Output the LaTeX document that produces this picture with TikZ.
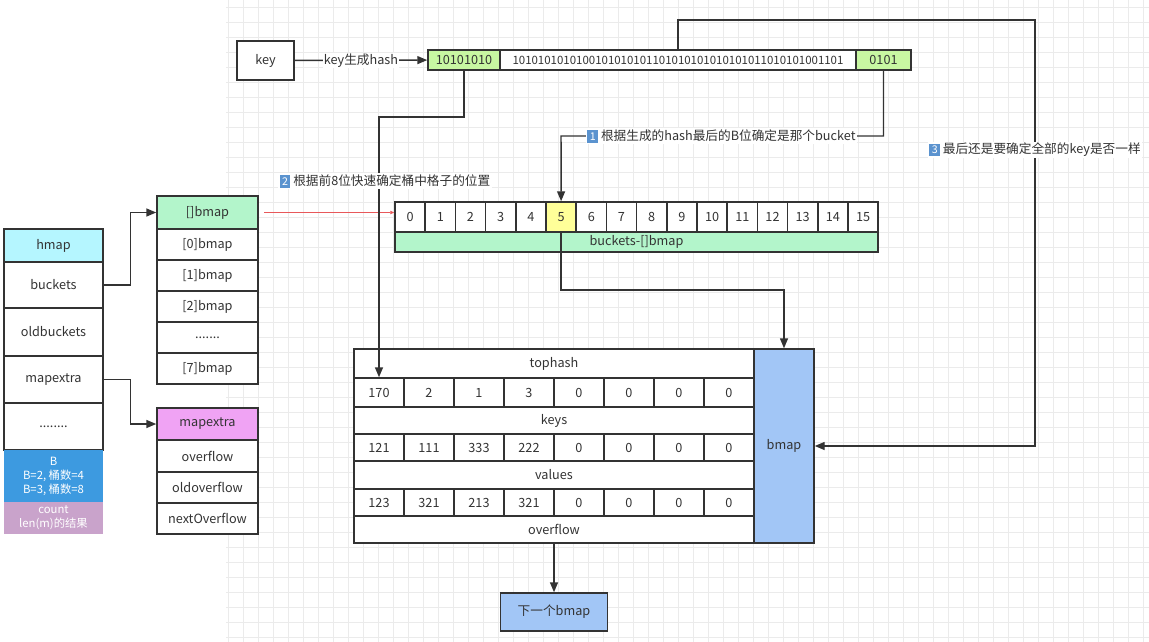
\documentclass[tikz,border=0pt]{standalone}
\usepackage{fontspec}
\setmainfont{Noto Sans CJK SC}
\usetikzlibrary{arrows.meta}
\definecolor{linec}{HTML}{333333}
\definecolor{txt}{HTML}{333333}
\definecolor{gridc}{HTML}{EBEBEB}
\definecolor{hcyan}{HTML}{B5F6FF}
\definecolor{mint}{HTML}{B3F5CB}
\definecolor{lime}{HTML}{C8F7A2}
\definecolor{violet}{HTML}{F0A3F4}
\definecolor{bblue}{HTML}{3D9AE0}
\definecolor{cpurple}{HTML}{C9A3CB}
\definecolor{yel}{HTML}{FFFF99}
\definecolor{bmapblue}{HTML}{A2C6F6}
\definecolor{capblue}{HTML}{5B93CF}
\definecolor{redl}{HTML}{E8585A}
\newcommand{\keycap}[1]{{\setlength{\fboxsep}{1.8pt}\colorbox{capblue}{\textcolor{white}{\fontsize{8}{8}\selectfont #1}}}}
\tikzset{>={Triangle[length=7.5pt,width=6pt]},
%size in pixels of the reference
sz/.style 2 args={minimum width=#1*0.75pt, minimum height=#2*0.75pt},
box/.style={draw=linec, line width=1.1pt, fill=white, inner sep=0pt, text=txt},
lbl/.style={fill=white, inner sep=1pt, text=txt},
conn/.style={draw=linec, line width=1.1pt}}

\begin{document}
\begin{tikzpicture}[x=0.75pt,y=-0.75pt,font=\fontsize{9.5}{11}\selectfont]
\useasboundingbox (0,0) rectangle (1149,642);
% grid paper
\begin{scope}
\clip (226,0) rectangle (1149,642);
\foreach \gx in {228,243,...,1149}
     \draw[gridc,line width=0.5pt] (\gx,0) -- (\gx,642);
\foreach \gy in {7,22,...,642}
     \draw[gridc,line width=0.5pt] (226,\gy) -- (1149,\gy);
\end{scope}

% hmap
\node[box, sz={99}{33}, fill=hcyan] (hmap) at (53.5,245.5) {hmap};
\node[box, sz={99}{46}] (buckets) at (53.5,285) {buckets};
\node[box, sz={99}{48}] (oldb) at (53.5,332) {oldbuckets};
\node[box, sz={99}{47}] (mapx) at (53.5,379.5) {mapextra};
\node[box, sz={99}{47}] (hdots) at (53.5,426.5) {........};
\node[fill=bblue, text=white, sz={99}{52}, inner sep=0pt, align=center,
      font=\fontsize{8.5}{10.5}\selectfont] (Bbox) at (53.5,476) {B\\B=2, 桶数=4\\B=3, 桶数=8};
\node[fill=cpurple, text=white, sz={99}{32}, inner sep=0pt, align=center,
      font=\fontsize{8.5}{10.5}\selectfont] (cnt) at (53.5,518) {count\\len(m)的结果};

% []bmap
\node[box, sz={101}{33}, fill=mint] (bmhdr) at (207.5,212.5) {[]bmap};
\node[box, sz={101}{31}] (bm0) at (207.5,244.5) {[0]bmap};
\node[box, sz={101}{31}] (bm1) at (207.5,275.5) {[1]bmap};
\node[box, sz={101}{31}] (bm2) at (207.5,306.5) {[2]bmap};
\node[box, sz={101}{31}] (bmdots) at (207.5,337.5) {.......};
\node[box, sz={101}{31}] (bm7) at (207.5,368.5) {[7]bmap};

% mapextra
\node[box, sz={101}{32}, fill=violet] (mxhdr) at (207.5,424) {mapextra};
\node[box, sz={101}{32}] (mxover) at (207.5,456) {overflow};
\node[box, sz={101}{31}] (mxold) at (207.5,487.5) {oldoverflow};
\node[box, sz={101}{31}] (mxnext) at (207.5,518.5) {nextOverflow};

\draw[conn,->] (buckets.east) -- ++(27,0) |- (bmhdr.west);
\draw[conn,->] (mapx.east) -- ++(27,0) |- (mxhdr.west);

% key and hash
\node[box, sz={57}{39}] (key) at (265.5,60.5) {key};
\node[box, sz={72}{20}, fill=lime] (hashA) at (464,60) {10101010};
\node[box, sz={356}{20}, font=\fontsize{8.6}{10}\selectfont] (hashB) at (678,60) {1010101010100101010101101010101010101011010101001101};
\node[box, sz={55}{20}, fill=lime] (hashC) at (883.5,60) {0101};
\draw[conn,->] (key) -- node[lbl, inner sep=0.5pt]{key生成hash} (hashA);

% buckets array
\foreach \i in {0,...,15}{
  \ifnum\i=5 \def\bkfill{yel}\else\def\bkfill{white}\fi
  \node[box, fill=\bkfill, sz={30.2}{30}] (bk\i) at ({410.1+30.2*\i},217) {\i};
}
\node[box, fill=mint, sz={483}{20}] (bkrow) at (636.5,242) {buckets-[]bmap};
\draw[redl,line width=0.5pt,-{Triangle[length=3pt,width=2.5pt]}] ([xshift=4pt]bmhdr.east) -- (bk0.west |- bmhdr.east);

% bmap struct
\node[box, sz={400}{29}] (toph) at (554,363.5) {tophash};
\foreach \v [count=\i from 0] in {170,2,1,3,0,0,0,0}
     \node[box, sz={50}{29}] (th\i) at ({379+50*\i},392.5) {\v};
\node[box, sz={400}{27}] (keys) at (554,420.5) {keys};
\foreach \v [count=\i from 0] in {121,111,333,222,0,0,0,0}
     \node[box, sz={50}{27}] (kv\i) at ({379+50*\i},447.5) {\v};
\node[box, sz={400}{28}] (vals) at (554,475) {values};
\foreach \v [count=\i from 0] in {123,321,213,321,0,0,0,0}
     \node[box, sz={50}{27}] (vv\i) at ({379+50*\i},502.5) {\v};
\node[box, sz={400}{27}] (ovf) at (554,529.5) {overflow};
\node[box, fill=bmapblue, sz={60}{194}] (bmap) at (784,446) {bmap};
\node[box, fill=bmapblue, sz={107}{38}] (nextb) at (554,612) {下一个bmap};

% lookups
\coordinate (bendA) at (379,117);
\coordinate (bendC) at (561,136);
\coordinate (bendD) at (784,290);
\coordinate (topR) at (1035,20);
\draw[conn,->] (hashA.south) |- (bendA) -- (bendA |- th0.north);
\draw[conn,->] (hashC.south) |- (bendC) -- (bk5.north);
\draw[conn,->] (bk5.south) |- (bendD) -- (bmap.north);
\draw[conn,->] (hashB.north) |- (topR) |- (bmap.east);
\draw[conn,->] (ovf.south) -- (nextb.north);

\node[lbl] (step1) at (721.5,136) {\keycap{1} 根据生成的hash最后的B位确定是那个bucket};
\node[lbl] (step2) at (385,181) {\keycap{2} 根据前8位快速确定桶中格子的位置};
\node[lbl] (step3) at (1035,150) {\keycap{3} 最后还是要确定全部的key是否一样};
\end{tikzpicture}
\end{document}
